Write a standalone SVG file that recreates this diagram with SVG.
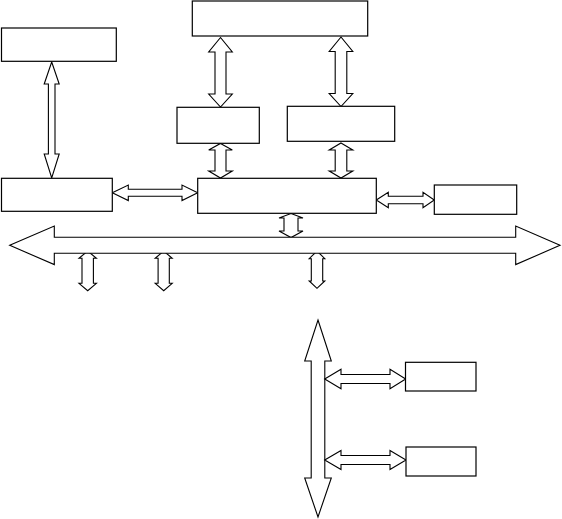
<svg xmlns="http://www.w3.org/2000/svg" width="562" height="519" viewBox="0 0 562 519">
<style>
.box{fill:#fff;stroke:#000;stroke-width:1.2}
.arr{fill:#fff;stroke:#000;stroke-width:1.1;stroke-linejoin:miter}
</style>
<rect width="562" height="519" fill="#fff"/>
<g id="connectors">
<polygon class="arr" points="51.7,62 59.2,84 55,84 55,154 59.2,154 51.7,178 44.2,154 48.4,154 48.4,84 44.2,84"/>
<polygon class="arr" points="220.5,37.5 232.3,52 226,52 226,94 232.3,94 220.5,107 208.7,94 215,94 215,52 208.7,52"/>
<polygon class="arr" points="341,37 352.8,51.5 346.8,51.5 346.8,93.5 352.8,93.5 341,106.5 329.2,93.5 335.2,93.5 335.2,51.5 329.2,51.5"/>
<polygon class="arr" points="220.5,143.5 232.3,150 226,150 226,171 232.3,171 220.5,178 208.7,171 215,171 215,150 208.7,150"/>
<polygon class="arr" points="341,143 352.8,150 346.8,150 346.8,171 352.8,171 341,178 329.2,171 335.2,171 335.2,150 329.2,150"/>
<polygon class="arr" points="291,213.5 303,218 298,218 298,231 303,231 291,237.5 279,231 284,231 284,218 279,218"/>
<polygon class="arr" points="87.7,251 96.4,258.3 93.4,258.3 93.4,283.3 96.4,283.3 87.7,290.7 79,283.3 82,283.3 82,258.3 79,258.3"/>
<polygon class="arr" points="163.7,251 172.2,258.3 169.3,258.3 169.3,283.3 172.2,283.3 163.7,290.7 155.2,283.3 158.1,283.3 158.1,258.3 155.2,258.3"/>
<polygon class="arr" points="317,251 324.8,258.7 322.7,258.7 322.7,281 324.8,281 317,288.3 309.2,281 311.3,281 311.3,258.7 309.2,258.7"/>
<polygon class="arr" points="9.7,245.3 54.3,226 54.3,237.3 515.7,237.3 515.7,226 560,245.3 515.7,264.6 515.7,253.3 54.3,253.3 54.3,264.6"/>
<polygon class="arr" points="112.3,192.8 128.3,185.1 128.3,189.3 182,189.3 182,185.1 197.7,192.8 182,200.5 182,196.3 128.3,196.3 128.3,200.5"/>
<polygon class="arr" points="376.3,200 388.3,192.3 388.3,196.3 423,196.3 423,192.3 434.3,200 423,207.7 423,203.7 388.3,203.7 388.3,207.7"/>
<polygon class="arr" points="318,320 331.3,361 324.8,361 324.8,478 331.3,478 318,517 304.7,478 311.2,478 311.2,361 304.7,361"/>
<polygon class="arr" points="324.7,379 341,369.3 341,374.5 390,374.5 390,369.3 405.7,379 390,388.7 390,383.5 341,383.5 341,388.7"/>
<polygon class="arr" points="324.7,460 341,450.5 341,455.5 390,455.5 390,450.5 406,460 390,469.5 390,464.5 341,464.5 341,469.5"/>
</g>
<g id="node-top"><rect class="box" x="192.3" y="1" width="175.4" height="35"/></g>
<g id="node-left-top"><rect class="box" x="1.5" y="28" width="114.8" height="33.3"/></g>
<g id="node-mid-left"><rect class="box" x="177" y="107.3" width="82.3" height="36"/></g>
<g id="node-mid-right"><rect class="box" x="287.3" y="106.3" width="107.4" height="35"/></g>
<g id="node-left"><rect class="box" x="1.5" y="178.3" width="110.8" height="33"/></g>
<g id="node-center"><rect class="box" x="197.7" y="178.3" width="178.6" height="35"/></g>
<g id="node-right"><rect class="box" x="434.3" y="185" width="82.4" height="29.3"/></g>
<g id="node-bottom-1"><rect class="box" x="405.5" y="362.3" width="70.5" height="28.7"/></g>
<g id="node-bottom-2"><rect class="box" x="406" y="447" width="70" height="29"/></g>
</svg>
